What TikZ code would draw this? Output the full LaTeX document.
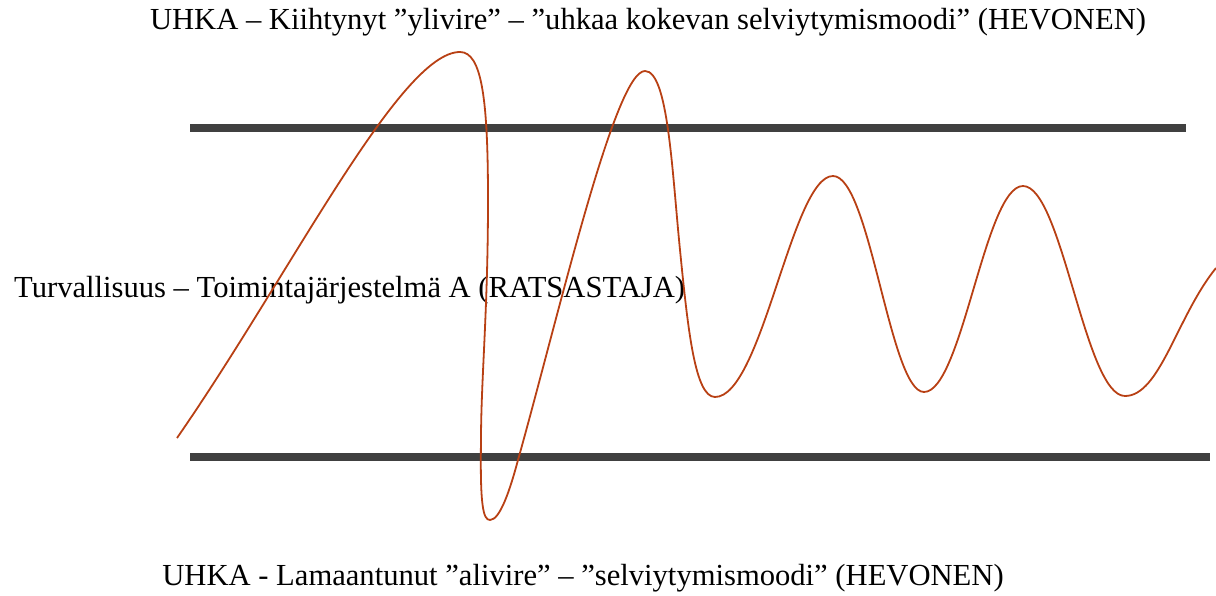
\documentclass[tikz,border=0pt]{standalone}
\usepackage{fontspec}
\setmainfont{Liberation Serif}
\definecolor{wave}{RGB}{184,64,20}
\definecolor{bar}{RGB}{64,64,64}
\begin{document}
\begin{tikzpicture}[x=1pt,y=-1pt,
  barline/.style={draw=bar,line width=8pt},
  waveline/.style={draw=wave,line width=1.8pt,line join=round},
  lbl/.style={inner sep=0pt,font=\fontsize{30.6}{33}\selectfont}]
\useasboundingbox (0,0) rectangle (1216,596);
\coordinate (t1) at (190,128);
\coordinate (t2) at (1186,128);
\coordinate (b1) at (190,457);
\coordinate (b2) at (1210,457);
\draw[barline] (t1) -- (t2);
\draw[barline] (b1) -- (b2);
\node[lbl] (top) at (648,22) {UHKA – Kiihtynyt ”ylivire” – ”uhkaa kokevan selviytymismoodi” (HEVONEN)};
\node[lbl,anchor=west] (mid) at (14,290) {Turvallisuus – Toimintajärjestelmä A (RATSASTAJA)};
\node[lbl] (bot) at (583,578) {UHKA - Lamaantunut ”alivire” – ”selviytymismoodi” (HEVONEN)};
\coordinate (w0) at (177,438);
\coordinate (w1) at (460,52);
\coordinate (w2) at (488,200);
\coordinate (w3) at (481,440);
\coordinate (w4) at (490,520);
\coordinate (w5) at (518,460);
\coordinate (w6) at (645,71);
\coordinate (w7) at (680,250);
\coordinate (w8) at (715,397);
\coordinate (w9) at (833,176);
\coordinate (w10) at (924,392);
\coordinate (w11) at (1023,186);
\coordinate (w12) at (1125,396);
\coordinate (w13) at (1216,268);
\draw[waveline] (w0) .. controls (290,275) and (400,52) .. (w1)
  .. controls (482,52) and (488,100) .. (w2)
  .. controls (488,310) and (481,380) .. (w3)
  .. controls (480,505) and (483,520) .. (w4)
  .. controls (500,520) and (510,490) .. (w5)
  .. controls (560,310) and (615,71) .. (w6)
  .. controls (668,71) and (672,170) .. (w7)
  .. controls (688,330) and (695,397) .. (w8)
  .. controls (762,397) and (792,176) .. (w9)
  .. controls (870,176) and (890,392) .. (w10)
  .. controls (962,392) and (985,186) .. (w11)
  .. controls (1062,186) and (1085,396) .. (w12)
  .. controls (1160,396) and (1177,316) .. (w13);
\end{tikzpicture}
\end{document}
